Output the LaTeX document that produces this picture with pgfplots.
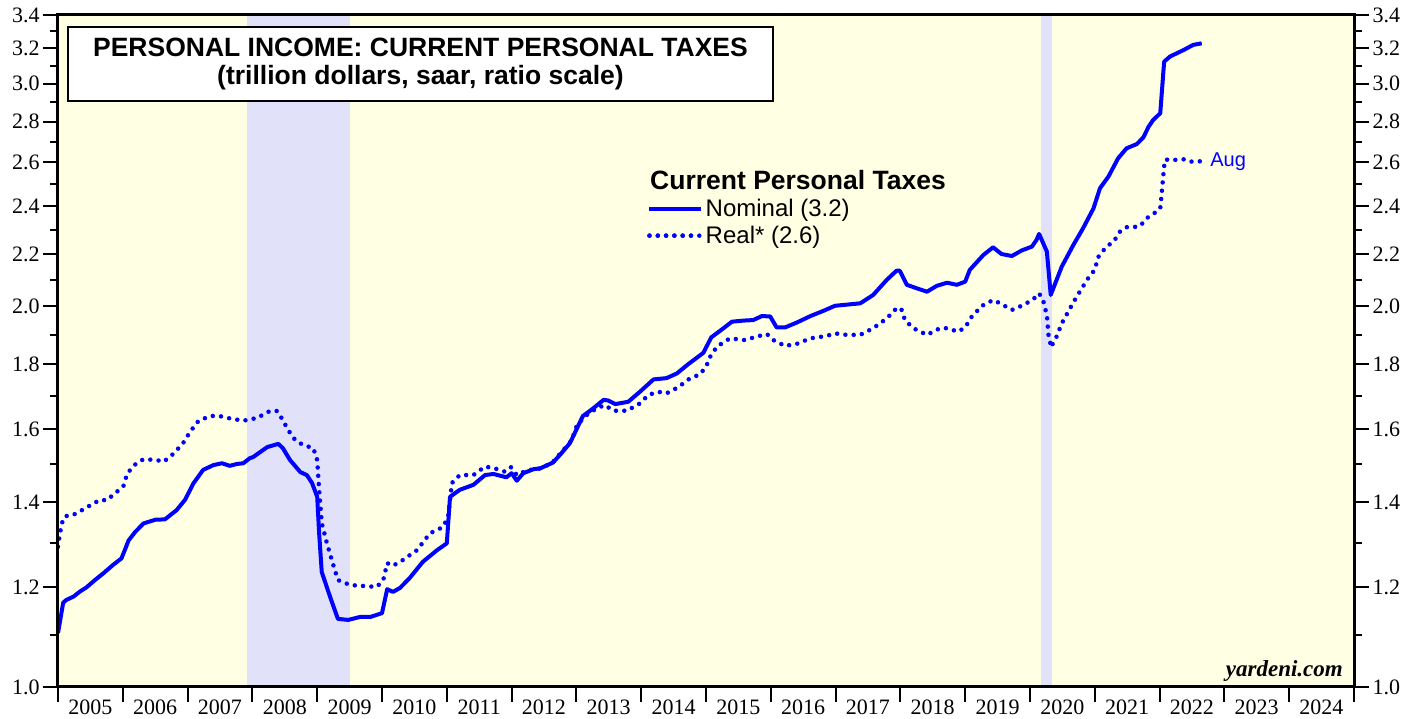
\documentclass[border=0pt]{standalone}
\usepackage{pgfplots}
\pgfplotsset{compat=1.18}
\usepackage{pgfplotstable}
\usepackage{fontspec}
\setmainfont{Liberation Sans}
\newfontfamily\serif{Liberation Serif}
\definecolor{bgyellow}{RGB}{255,255,227}
\definecolor{recess}{RGB}{225,225,250}
\definecolor{lineblue}{RGB}{0,0,255}

\pgfplotstableread{
t v
2005.00 1.103
2005.08 1.166
2005.13 1.172
2005.24 1.179
2005.34 1.190
2005.44 1.199
2005.57 1.215
2005.70 1.230
2005.85 1.249
2005.98 1.264
2006.09 1.306
2006.19 1.326
2006.32 1.347
2006.50 1.356
2006.65 1.357
2006.83 1.380
2006.96 1.406
2007.09 1.449
2007.24 1.485
2007.40 1.498
2007.53 1.503
2007.65 1.496
2007.76 1.501
2007.86 1.503
2007.96 1.517
2008.01 1.520
2008.23 1.548
2008.40 1.557
2008.47 1.545
2008.58 1.512
2008.74 1.479
2008.84 1.471
2008.92 1.450
2009.00 1.414
2009.03 1.323
2009.07 1.233
2009.20 1.178
2009.32 1.132
2009.48 1.130
2009.66 1.136
2009.82 1.136
2010.00 1.144
2010.08 1.195
2010.17 1.189
2010.28 1.198
2010.43 1.220
2010.63 1.256
2010.85 1.283
2011.00 1.299
2011.05 1.414
2011.20 1.432
2011.41 1.445
2011.59 1.471
2011.72 1.474
2011.92 1.465
2012.00 1.476
2012.08 1.456
2012.18 1.476
2012.34 1.487
2012.44 1.489
2012.64 1.505
2012.77 1.531
2012.90 1.559
2013.01 1.602
2013.10 1.638
2013.26 1.661
2013.42 1.687
2013.49 1.685
2013.60 1.674
2013.80 1.681
2013.98 1.712
2014.19 1.751
2014.39 1.755
2014.55 1.770
2014.73 1.801
2014.96 1.838
2015.08 1.890
2015.27 1.922
2015.40 1.945
2015.58 1.949
2015.73 1.951
2015.86 1.965
2015.99 1.964
2016.09 1.925
2016.22 1.925
2016.40 1.942
2016.61 1.965
2016.81 1.984
2016.99 2.002
2017.12 2.005
2017.38 2.011
2017.58 2.042
2017.79 2.099
2017.94 2.134
2017.99 2.134
2018.10 2.080
2018.25 2.067
2018.41 2.054
2018.56 2.076
2018.72 2.088
2018.87 2.080
2019.00 2.092
2019.07 2.137
2019.28 2.196
2019.43 2.227
2019.56 2.200
2019.72 2.192
2019.87 2.214
2020.03 2.230
2020.10 2.257
2020.14 2.282
2020.26 2.210
2020.32 2.042
2020.49 2.150
2020.67 2.237
2020.82 2.306
2020.98 2.391
2021.08 2.480
2021.21 2.533
2021.36 2.619
2021.49 2.667
2021.65 2.688
2021.75 2.721
2021.83 2.774
2021.90 2.808
2022.01 2.843
2022.07 3.123
2022.16 3.152
2022.37 3.190
2022.52 3.220
2022.65 3.229
}\nominal

\pgfplotstableread{
t v
2005.00 1.291
2005.03 1.323
2005.08 1.360
2005.16 1.368
2005.26 1.370
2005.37 1.380
2005.55 1.397
2005.65 1.406
2005.75 1.405
2005.91 1.427
2006.01 1.442
2006.07 1.476
2006.21 1.503
2006.32 1.514
2006.52 1.512
2006.63 1.507
2006.78 1.529
2006.93 1.559
2007.04 1.592
2007.17 1.624
2007.35 1.638
2007.47 1.639
2007.65 1.631
2007.86 1.624
2007.96 1.628
2008.07 1.632
2008.27 1.653
2008.38 1.653
2008.47 1.626
2008.55 1.597
2008.66 1.568
2008.78 1.554
2008.94 1.545
2009.00 1.512
2009.03 1.432
2009.07 1.348
2009.15 1.299
2009.24 1.253
2009.32 1.215
2009.51 1.204
2009.71 1.202
2009.92 1.200
2010.02 1.215
2010.08 1.253
2010.17 1.247
2010.32 1.260
2010.54 1.283
2010.74 1.323
2010.94 1.338
2011.02 1.363
2011.08 1.450
2011.20 1.471
2011.41 1.471
2011.59 1.494
2011.74 1.489
2011.90 1.480
2011.99 1.492
2012.08 1.471
2012.23 1.483
2012.44 1.489
2012.62 1.503
2012.80 1.540
2012.93 1.568
2013.01 1.612
2013.16 1.641
2013.31 1.661
2013.44 1.671
2013.57 1.654
2013.78 1.654
2013.98 1.676
2014.11 1.702
2014.26 1.712
2014.39 1.707
2014.57 1.726
2014.73 1.751
2014.91 1.768
2015.01 1.795
2015.04 1.817
2015.17 1.859
2015.37 1.887
2015.60 1.881
2015.78 1.893
2015.94 1.902
2016.04 1.881
2016.22 1.861
2016.40 1.868
2016.61 1.887
2016.86 1.895
2016.99 1.904
2017.17 1.899
2017.38 1.899
2017.58 1.922
2017.79 1.957
2017.94 1.993
2018.01 1.993
2018.07 1.951
2018.20 1.922
2018.41 1.899
2018.61 1.922
2018.72 1.922
2018.89 1.910
2019.00 1.925
2019.10 1.963
2019.26 2.002
2019.43 2.023
2019.54 2.011
2019.72 1.987
2019.90 2.005
2020.05 2.026
2020.14 2.048
2020.20 2.023
2020.23 1.999
2020.27 1.951
2020.28 1.904
2020.31 1.876
2020.32 1.856
2020.36 1.872
2020.41 1.893
2020.49 1.939
2020.59 1.981
2020.69 2.023
2020.80 2.067
2020.92 2.114
2021.00 2.137
2021.05 2.187
2021.18 2.230
2021.29 2.250
2021.39 2.292
2021.49 2.310
2021.59 2.310
2021.70 2.315
2021.80 2.348
2021.93 2.372
2022.01 2.391
2022.03 2.450
2022.06 2.549
2022.08 2.611
2022.16 2.614
2022.26 2.611
2022.37 2.614
2022.47 2.603
2022.67 2.605
}\real

\begin{document}
\begin{tikzpicture}
\begin{axis}[
  at={(0pt,0pt)}, anchor=south west,
  width=1296pt, height=672pt, scale only axis,
  xmin=2005, xmax=2025,
  ymode=log, ymin=1, ymax=3.4,
  axis background/.style={fill=bgyellow},
  axis on top=true,
  axis line style={line width=3pt},
  tick align=outside,
  xtick={2005,2006,...,2025}, xticklabels={}, xtick pos=bottom,
  ytick={1.0,1.2,1.4,1.6,1.8,2.0,2.2,2.4,2.6,2.8,3.0,3.2,3.4},
  yticklabels={1.0,1.2,1.4,1.6,1.8,2.0,2.2,2.4,2.6,2.8,3.0,3.2,3.4},
  minor ytick={1.1,1.3,1.5,1.7,1.9,2.1,2.3,2.5,2.7,2.9,3.1,3.3},
  ytick pos=both, yticklabel pos=left,
  major tick length=15pt, minor tick length=8pt,
  every tick/.style={black, line width=2pt},
  /pgf/number format/assume math mode=true,
  ticklabel style={font=\serif\fontsize{22}{24}\selectfont},
  legend style={at={(rel axis cs:0.4545,0.729)}, anchor=north west, draw=none, fill=none,
    font=\fontsize{24}{28}\selectfont, row sep=4pt, inner sep=0pt},
  legend cell align=left,
  legend image code/.code={\draw[#1] (0pt,0pt) -- (46pt,0pt); \path (0pt,0pt) -- (52pt,0pt);},
]
\fill[recess] (axis cs:2007.917,1) rectangle (axis cs:2009.5,3.4);
\fill[recess] (axis cs:2020.167,1) rectangle (axis cs:2020.333,3.4);
\addplot[lineblue, line width=4pt, line join=round] table[x=t,y=v] {\nominal};
\addlegendentry{Nominal (3.2)}
\addplot[lineblue, line width=4.5pt, line cap=round, dash pattern=on 0pt off 8.3pt] table[x=t,y=v] {\real};
\addlegendentry{Real* (2.6)}
\node[draw=black, line width=2pt, fill=white, minimum width=705pt, minimum height=74pt,
  align=center, font=\bfseries\fontsize{26.5}{28}\selectfont]
  at (rel axis cs:0.2797,0.9271) {PERSONAL INCOME: CURRENT PERSONAL TAXES\\(trillion dollars, saar, ratio scale)};
\node[anchor=west, inner sep=0pt, font=\bfseries\fontsize{26.5}{30}\selectfont]
  at (rel axis cs:0.4568,0.7545) {Current Personal Taxes};
\node[anchor=west, inner sep=0pt, text=lineblue, font=\fontsize{20}{24}\selectfont]
  at (axis cs:2022.78,2.605) {Aug};
\node[anchor=base east, inner sep=0pt, font=\serif\bfseries\itshape\fontsize{23}{26}\selectfont]
  at (rel axis cs:0.9915,0.0149) {yardeni.com};
\end{axis}
\begin{axis}[
  at={(0pt,0pt)}, anchor=south west,
  width=1296pt, height=672pt, scale only axis,
  xmin=2005, xmax=2025,
  ymode=log, ymin=1, ymax=3.4,
  axis line style={draw=none},
  tick align=outside,
  tick style={draw=none},
  xtick={2005.5,2006.5,...,2024.5},
  xticklabels={2005,2006,2007,2008,2009,2010,2011,2012,2013,2014,2015,2016,2017,2018,2019,2020,2021,2022,2023,2024},
  xtick pos=bottom,
  ytick={1.0,1.2,1.4,1.6,1.8,2.0,2.2,2.4,2.6,2.8,3.0,3.2,3.4},
  yticklabels={1.0,1.2,1.4,1.6,1.8,2.0,2.2,2.4,2.6,2.8,3.0,3.2,3.4},
  ytick pos=right, yticklabel pos=right,
  major tick length=15pt,
  /pgf/number format/assume math mode=true,
  ticklabel style={font=\serif\fontsize{22}{24}\selectfont},
  xticklabel style={yshift=6pt},
]
\end{axis}
\pgfresetboundingbox
\path[use as bounding box] (-58pt,-32pt) rectangle (1361pt,687pt);
\end{tikzpicture}
\end{document}
